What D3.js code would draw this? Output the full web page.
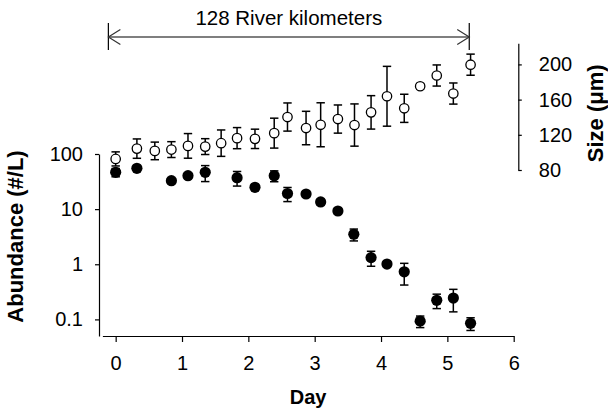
<!DOCTYPE html>
<head>
<meta charset="utf-8">
<style>

body {
  margin: 0;
  background: #fff;
}

svg text {
  font-family: "Liberation Sans", Arial, sans-serif;
  fill: #000;
}

.axis path,
.axis line {
  stroke: #000;
  stroke-width: 1.2;
}

.axis text {
  font-size: 20px;
}

.label {
  font-size: 21px;
  font-weight: bold;
  text-anchor: middle;
}

.bar {
  stroke: #000;
  stroke-width: 1.5;
}

</style>
</head>
<body>
<svg width="608" height="409"></svg>
<script src="https://cdn.jsdelivr.net/npm/d3@7"></script>
<script>

/* global d3 */

// open circles: body size (um), right axis
const sizeDays = [0, 0.32, 0.59, 0.84, 1.09, 1.35, 1.59, 1.83, 2.10, 2.39, 2.59, 2.87, 3.09, 3.35, 3.60, 3.85, 4.09, 4.35, 4.59, 4.84, 5.09, 5.35]
const sizeMean = [92.6, 104.3, 101.7, 103.2, 107.4, 106.6, 110.5, 116.2, 115.4, 121.9, 140.2, 127.7, 131.4, 137.9, 131.1, 145.5, 163.8, 150.1, 175.2, 187.4, 166.9, 199.7]
const sizeErr = [8, 11, 10, 9, 14, 9, 15, 12, 11, 17, 16, 19, 25, 16, 24, 19, 34, 16, 3, 12, 12, 12]

// filled circles: abundance (#/L), left log axis
const abundDays = [0, 0.32, 0.84, 1.09, 1.35, 1.83, 2.10, 2.39, 2.59, 2.87, 3.09, 3.35, 3.59, 3.85, 4.09, 4.35, 4.59, 4.84, 5.09, 5.35]
const abundMean = [46.6, 55, 32.8, 40.4, 46.6, 37.2, 24.9, 40.4, 19.2, 18.8, 13.5, 9.25, 3.5, 1.32, 1.01, 0.73, 0.093, 0.222, 0.244, 0.085]
const abundErr = [8, 4, 3, 4, 15, 11, 3, 9, 5.5, 2, 1.5, 1, 0.85, 0.4, 0.1, 0.31, 0.022, 0.065, 0.107, 0.022]

const dayTicks = [0, 1, 2, 3, 4, 5, 6]
const abundTicks = [0.1, 1, 10, 100]
const abundTickLabels = ['0.1', '1', '10', '100']
const sizeTicks = [80, 120, 160, 200]

const reachDays = [-0.11, 5.33]
const reachLabel = '128 River kilometers'

let svg = d3.select('svg')

const x = d3.scaleLinear().domain([-0.2, 6]).range([102.4, 513.7])
const yAbund = d3.scaleLog().domain([0.05, 100]).range([336, 154])
const ySize = d3.scaleLinear().domain([80, 224]).range([170, 43.3])

// axes
svg.append('g')
  .attr('class', 'axis')
  .attr('transform', 'translate(0, 336)')
  .call(d3.axisBottom(x)
    .tickValues(dayTicks)
    .tickFormat(d3.format('d'))
    .tickSize(6)
    .tickSizeOuter(0)
    .tickPadding(14))

svg.append('g')
  .attr('class', 'axis')
  .attr('transform', 'translate(99, 0)')
  .call(d3.axisLeft(yAbund)
    .tickValues(abundTicks)
    .tickFormat((d, i) => abundTickLabels[i])
    .tickSize(4)
    .tickSizeOuter(0)
    .tickPadding(12))

svg.append('g')
  .attr('class', 'axis')
  .attr('transform', 'translate(518.3, 0)')
  .call(d3.axisRight(ySize)
    .tickValues(sizeTicks)
    .tickSize(3.5)
    .tickSizeOuter(0)
    .tickPadding(17))

// axis titles
svg.append('text')
  .attr('class', 'label')
  .attr('x', (x.range()[0] + x.range()[1]) / 2)
  .attr('y', 404)
  .style('font-size', '20px')
  .text('Day')

svg.append('text')
  .attr('class', 'label')
  .attr('transform', 'translate(23, 236.5) rotate(-90)')
  .style('font-size', '22px')
  .text('Abundance (#/L)')

svg.append('text')
  .attr('class', 'label')
  .attr('transform', 'translate(603, 113.3) rotate(-90)')
  .style('font-size', '22px')
  .text('Size (μm)')

// river reach arrow
function reachLayer() {
  const g = svg.append('g')
  const x0 = x(reachDays[0])
  const x1 = x(reachDays[1])
  const ay = 37
  g.append('line')
    .attr('x1', x0).attr('x2', x1)
    .attr('y1', ay).attr('y2', ay)
    .style('stroke', '#555')
    .style('stroke-width', 1.3)
  ;[x0, x1].forEach(xe => {
    g.append('line')
      .attr('x1', xe).attr('x2', xe)
      .attr('y1', 23).attr('y2', 50)
      .style('stroke', '#000')
      .style('stroke-width', 1.2)
  })
  g.append('path')
    .attr('d', `M${x0 + 12},${ay - 7.5}L${x0},${ay}L${x0 + 12},${ay + 7.5}`)
    .style('fill', 'none')
    .style('stroke', '#333')
    .style('stroke-width', 1.2)
  g.append('path')
    .attr('d', `M${x1 - 12},${ay - 7.5}L${x1},${ay}L${x1 - 12},${ay + 7.5}`)
    .style('fill', 'none')
    .style('stroke', '#333')
    .style('stroke-width', 1.2)
  g.append('text')
    .attr('x', (x0 + x1) / 2)
    .attr('y', 25)
    .style('font-size', '20.5px')
    .style('text-anchor', 'middle')
    .text(reachLabel)
}

function errorBars(days, mean, err, y) {
  const data = days.map((d, i) => ({day: d, lo: mean[i] - err[i], hi: mean[i] + err[i]}))
  const g = svg.append('g')
  g.selectAll('line.stem')
    .data(data)
    .enter()
    .append('line')
      .attr('class', 'bar')
      .attr('x1', d => x(d.day))
      .attr('x2', d => x(d.day))
      .attr('y1', d => y(d.lo))
      .attr('y2', d => y(d.hi))
  ;['lo', 'hi'].forEach(end => {
    g.selectAll(`line.cap-${end}`)
      .data(data)
      .enter()
      .append('line')
        .attr('class', 'bar')
        .attr('x1', d => x(d.day) - 4.2)
        .attr('x2', d => x(d.day) + 4.2)
        .attr('y1', d => y(d[end]))
        .attr('y2', d => y(d[end]))
  })
}

function pointLayer(days, mean, y, open) {
  svg.append('g')
    .selectAll('circle')
    .data(days)
    .enter()
    .append('circle')
      .attr('cx', d => x(d))
      .attr('cy', (d, i) => y(mean[i]))
      .attr('r', open ? 4.7 : 5.6)
      .style('fill', open ? '#fff' : '#000')
      .style('stroke', '#000')
      .style('stroke-width', open ? 1.3 : 0)
}

reachLayer()
errorBars(sizeDays, sizeMean, sizeErr, ySize)
pointLayer(sizeDays, sizeMean, ySize, true)
errorBars(abundDays, abundMean, abundErr, yAbund)
pointLayer(abundDays, abundMean, yAbund, false)

</script>
</body>
